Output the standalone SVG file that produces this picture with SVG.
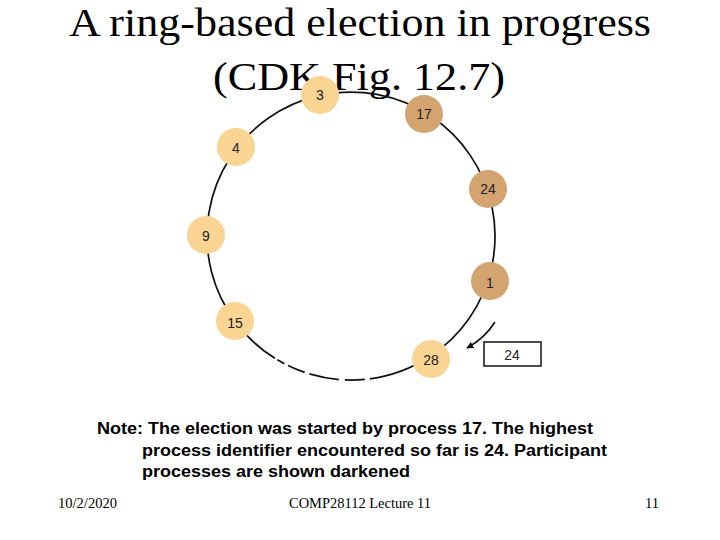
<svg xmlns="http://www.w3.org/2000/svg" width="720" height="540" viewBox="0 0 720 540">
<defs>
<style>
.title{font-family:"Liberation Serif","Times New Roman",serif;font-size:40px;fill:#000}
.ring{fill:none;stroke:#111;stroke-width:1.7}
.light{fill:#F9D493}
.dark{fill:#D3A46F}
.lbl{font-family:"Liberation Sans",Arial,sans-serif;font-size:14px;fill:#222;text-anchor:middle}
.note{font-family:"Liberation Sans",Arial,sans-serif;font-size:16px;font-weight:bold;fill:#000}
.foot{font-family:"Liberation Serif","Times New Roman",serif;font-size:14px;fill:#000}
</style>
<marker id="ah" viewBox="0 0 10 10" refX="9" refY="5" markerWidth="7" markerHeight="7" orient="auto" markerUnits="userSpaceOnUse">
<path d="M0,0 L10,5 L0,10 z" fill="#111"/>
</marker>
</defs>
<rect width="720" height="540" fill="#fff"/>
<text class="title" x="360" y="36" text-anchor="middle" textLength="582" lengthAdjust="spacingAndGlyphs">A ring-based election in progress</text>
<text class="title" x="359" y="90" text-anchor="middle" textLength="292" lengthAdjust="spacingAndGlyphs">(CDK Fig. 12.7)</text>
<g id="connectors">
<path class="ring" d="M234.8,321.1 A144,144 0 1 1 429.5,356.8"/>
<path class="ring" d="M234.8,321.1 A144,144 0 0 0 429.5,356.8" stroke-dasharray="55 3 8 4 18 5 30 6 20 5 200"/>
<path class="ring" d="M495,322 Q485,338 467,348" marker-end="url(#ah)"/>
</g>
<g id="n3"><circle class="light" cx="320" cy="95" r="19"/><text class="lbl" x="320" y="100">3</text></g>
<g id="n17"><circle class="dark" cx="424" cy="114" r="19"/><text class="lbl" x="424" y="119">17</text></g>
<g id="n24"><circle class="dark" cx="488" cy="189" r="19"/><text class="lbl" x="488" y="194">24</text></g>
<g id="n1"><circle class="dark" cx="490" cy="281" r="19"/><text class="lbl" x="490" y="288">1</text></g>
<g id="n28"><circle class="light" cx="431" cy="359" r="19"/><text class="lbl" x="431" y="365">28</text></g>
<g id="n15"><circle class="light" cx="235" cy="321" r="19"/><text class="lbl" x="235" y="328">15</text></g>
<g id="n9"><circle class="light" cx="206" cy="235" r="19"/><text class="lbl" x="206" y="241">9</text></g>
<g id="n4"><circle class="light" cx="236" cy="147" r="19"/><text class="lbl" x="236" y="153">4</text></g>
<g id="msg"><rect x="484" y="342" width="57" height="24" fill="#fff" stroke="#111" stroke-width="1.5"/><text class="lbl" x="512" y="360">24</text></g>
<text class="note" x="97" y="434" textLength="496" lengthAdjust="spacingAndGlyphs">Note: The election was started by process 17. The highest</text>
<text class="note" x="142" y="456" textLength="465" lengthAdjust="spacingAndGlyphs">process identifier encountered so far is 24. Participant</text>
<text class="note" x="142" y="477" textLength="268" lengthAdjust="spacingAndGlyphs">processes are shown darkened</text>
<text class="foot" x="58" y="508" textLength="59" lengthAdjust="spacingAndGlyphs">10/2/2020</text>
<text class="foot" x="289" y="508" textLength="142" lengthAdjust="spacingAndGlyphs">COMP28112  Lecture 11</text>
<text class="foot" x="645" y="508" textLength="14" lengthAdjust="spacingAndGlyphs">11</text>
</svg>
